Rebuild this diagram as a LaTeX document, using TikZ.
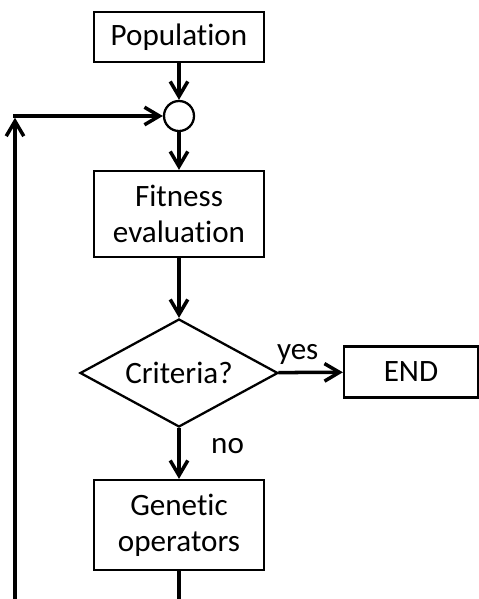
\documentclass[tikz,border=0pt]{standalone}
\usepackage{fontspec}
\setmainfont{Carlito}[Ligatures=NoCommon]
\usetikzlibrary{shapes.geometric,arrows.meta}

\tikzset{
  box/.style={draw,line width=1.3pt,inner sep=0pt,minimum width=3.4cm,align=center,
    font=\fontsize{17.7}{20.5}\selectfont},
  decision/.style={diamond,draw,line width=1.3pt,inner sep=0pt,aspect=1.83,minimum width=3.96cm,
    minimum height=2.16cm,font=\fontsize{17.7}{20.5}\selectfont},
  flow/.style={line width=2pt,-{Straight Barb[length=8.5pt,width=10pt,line width=2pt]}},
  lbl/.style={font=\fontsize{17.7}{20.5}\selectfont}
}

\begin{document}
\begin{tikzpicture}[x=0.02cm,y=-0.02cm]
\useasboundingbox (0,0) rectangle (479,599);
%blocks
\node[box,minimum height=1cm] (pop) at (179,37) {Population};
\node[circle,draw,line width=1.3pt,minimum size=0.6cm,inner sep=0pt] (join) at (179,116) {};
\node[box,minimum height=1.72cm] (fit) at (179,214) {Fitness\\evaluation};
\node[decision] (crit) at (179,373) {Criteria?};
\node[box,minimum width=2.68cm,minimum height=1.02cm] (end) at (411,372) {END};
\node[box,minimum height=1.8cm] (gen) at (179,525) {Genetic\\operators};
% loop back
\coordinate (genout) at (179,599);
\coordinate (loopin) at (15,599);
\coordinate (corner) at (15,116);
%arrows
\draw[flow] (pop) -- (join);
\draw[flow] (join) -- (fit);
\draw[flow] (fit) -- (crit);
\draw[flow] (crit) -- node[lbl,above,pos=0.3] {yes} (end);
\draw[flow] (crit) -- node[lbl,right,pos=0.36,xshift=14pt] {no} (gen);
\draw[line width=2pt] (gen) -- (genout);
\draw[flow] (loopin) -- ([yshift=-1pt]corner);
\draw[flow] ([xshift=-1pt]corner) -- (join);
\end{tikzpicture}
\end{document}
